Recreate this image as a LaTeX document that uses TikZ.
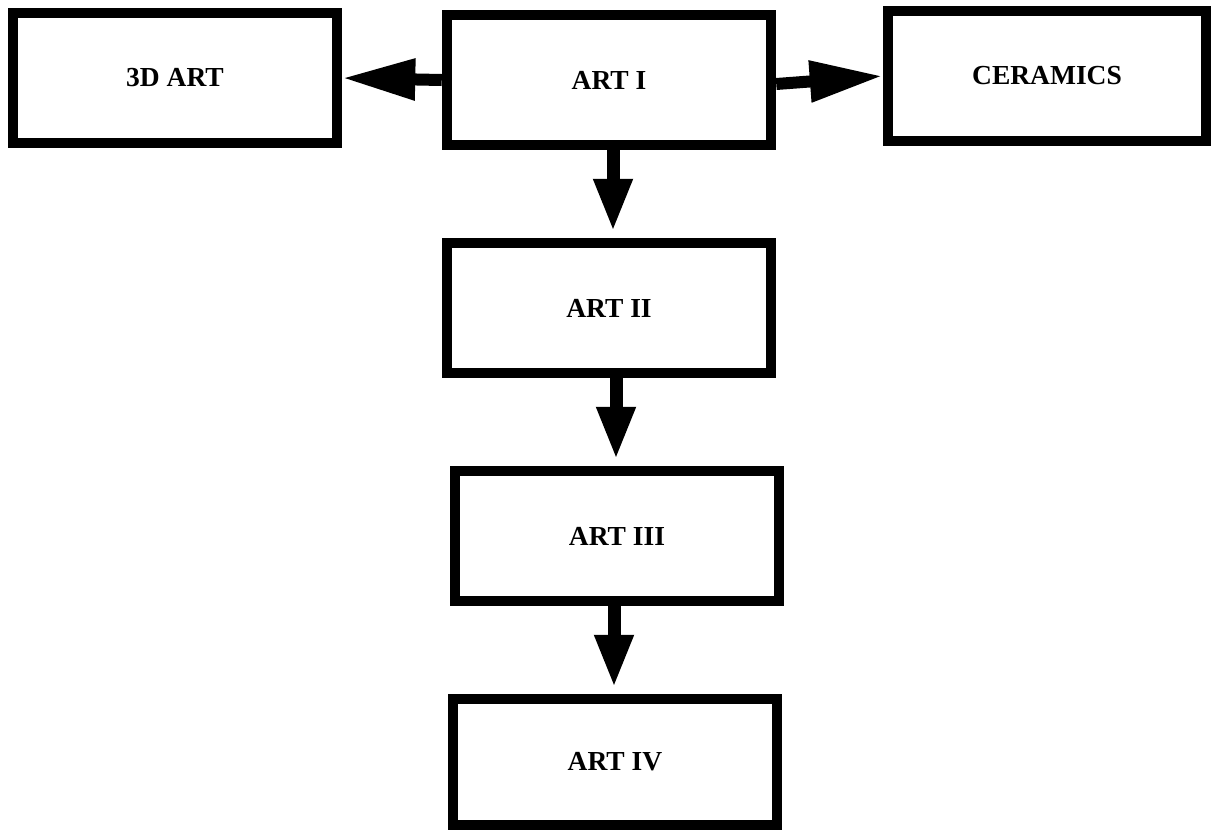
\documentclass[tikz,border=0pt]{standalone}
\usepackage{fontspec}
\setmainfont{Liberation Serif}
\usetikzlibrary{arrows.meta,calc}
\begin{document}
\begin{tikzpicture}[x=1pt,y=-1pt,
  box/.style={draw=black,line width=10.5pt,rectangle,fill=white,
    minimum width=324pt,minimum height=130pt,inner sep=0pt,
    font=\fontsize{27.5}{27.5}\selectfont\bfseries},
  vconn/.style={line width=13pt,-{Triangle[length=53pt,width=36pt]},shorten >=6pt},
  hconn/.style={line width=12pt,-{Triangle[length=73pt,width=39pt]}}]
\useasboundingbox (0,0) rectangle (1212,831);
\node[box] (art3d) at (175,78) {3D ART};
\node[box] (art1) at (609,80) {ART I};
\node[box,minimum width=318pt] (cer) at (1047,76) {CERAMICS};
\node[box] (art2) at (609,308) {ART II};
\node[box] (art3) at (617,536) {ART III};
\node[box,minimum height=126pt] (art4) at (615,762) {ART IV};
\draw[hconn] (art1.west) -- (art3d.east);
\draw[hconn] ($(art1.east)+(0,4)$) -- (cer.west);
\draw[vconn] ($(art1.south)+(4,0)$) -- ($(art2.north)+(4,0)$);
\draw[vconn] ($(art2.south)+(7,0)$) -- ($(art3.north)+(-1,0)$);
\draw[vconn] ($(art3.south)+(-3,0)$) -- ($(art4.north)+(-1,0)$);
\end{tikzpicture}
\end{document}
